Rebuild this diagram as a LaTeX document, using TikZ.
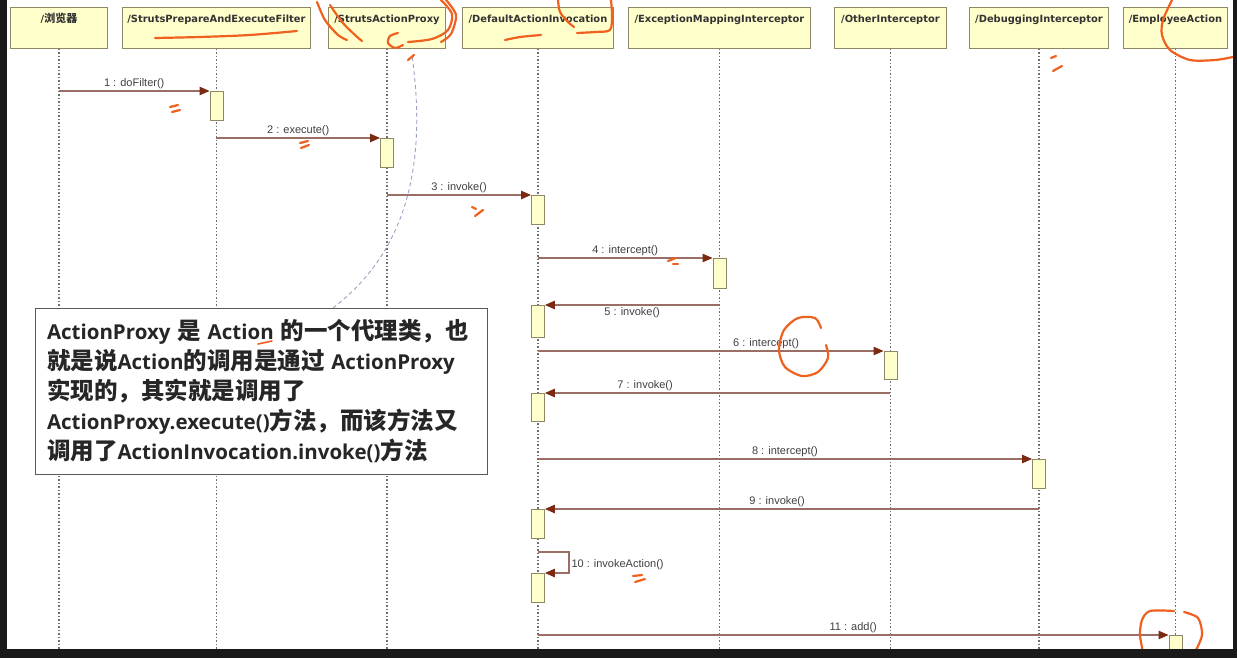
\documentclass[tikz,border=0pt]{standalone}
\usepackage{fontspec}
\usetikzlibrary{arrows.meta}
\setmainfont{DejaVu Sans}
\newfontfamily\hdrfont{DejaVu Sans}[BoldFont={DejaVu Sans Bold}]
\newfontfamily\cjkfont{Noto Sans CJK SC}
\newfontfamily\msgfont{Liberation Sans}
\newfontfamily\notelat{Open Sans}
\newcommand{\cj}[1]{{\cjkfont\bfseries #1}}
\newcommand{\ncj}[1]{{\cjkfont\bfseries\fontsize{23.5}{30}\selectfont #1}}
\definecolor{yel}{HTML}{FFFFCC}
\definecolor{boxc}{HTML}{8F8866}
\definecolor{lifec}{HTML}{6E6E6E}
\definecolor{msgc}{HTML}{9A6E64}
\definecolor{tipc}{HTML}{7A2A10}
\definecolor{linkc}{HTML}{9AA2C4}
\definecolor{penc}{HTML}{F0601E}
\definecolor{framec}{HTML}{1A1A1A}
\tikzset{
  hdr/.style={draw=boxc, fill=yel, line width=0.9pt, anchor=north west,
    minimum height=41pt, inner xsep=0pt, inner ysep=0pt,
    text height=15pt, text depth=26pt, font=\hdrfont\bfseries\fontsize{9.9}{11}\selectfont,
    text=black!80},
  act/.style={draw=boxc, fill=yel, line width=0.9pt, anchor=north,
    minimum width=13pt, minimum height=29pt, inner sep=0pt},
  life/.style={lifec, line width=1.1pt, dash pattern=on 1.2pt off 2.3pt},
  msg/.style={msgc, line width=1.1pt, -{Triangle[length=10pt,width=8.5pt,fill=tipc,color=tipc]}},
  mlbl/.style={font=\msgfont\fontsize{11}{13}\selectfont, text=black!75, inner sep=2pt},
  pen/.style={penc, line width=2.2pt, line cap=round, line join=round},
}
\begin{document}
\begin{tikzpicture}[x=1pt, y=-1pt]
\useasboundingbox (0,0) rectangle (1237,658);
\fill[white] (0,0) rectangle (1237,658);
\coordinate (bot) at (0,649);

% lifeline heads
\node[hdr, minimum width=97pt]  (h1) at (10,7)   {/\cj{\fontsize{11}{12}\selectfont 浏览器}};
\node[hdr, minimum width=188pt] (h2) at (122,7)  {/StrutsPrepareAndExecuteFilter};
\node[hdr, minimum width=117pt] (h3) at (328,7)  {/StrutsActionProxy};
\node[hdr, minimum width=151pt] (h4) at (462,7)  {/DefaultActionInvocation};
\node[hdr, minimum width=182pt] (h5) at (628,7)  {/ExceptionMappingInterceptor};
\node[hdr, minimum width=112pt] (h6) at (834,7)  {/OtherInterceptor};
\node[hdr, minimum width=139pt] (h7) at (969,7)  {/DebuggingInterceptor};
\node[hdr, minimum width=104pt] (h8) at (1123,7) {/EmployeeAction};

% lifelines
\foreach \h in {h1,h2,h3,h4,h5,h6,h7,h8}
  \draw[life] (\h.south) -- (\h.south |- bot);

% activations
\node[act] (a1)  at (h2.south |- 0,91)  {};
\node[act] (a2)  at (h3.south |- 0,138) {};
\node[act] (a3)  at (h4.south |- 0,195) {};
\node[act, minimum height=30pt] (a4)  at (h5.south |- 0,258) {};
\node[act, minimum height=32pt] (a5)  at (h4.south |- 0,305) {};
\node[act, minimum height=28pt] (a6)  at (h6.south |- 0,351) {};
\node[act, minimum height=28pt] (a7)  at (h4.south |- 0,393) {};
\node[act] (a8)  at (h7.south |- 0,459) {};
\node[act] (a9)  at (h4.south |- 0,509) {};
\node[act] (a10) at (h4.south |- 0,573) {};
\node[act] (a11) at (h8.south |- 0,635) {};

% messages
\draw[msg] (h1.south |- a1.north) -- node[mlbl, above] {1 : doFilter()} (a1.north west);
\draw[msg] (h2.south |- a2.north) -- node[mlbl, above] {2 : execute()} (a2.north west);
\draw[msg] (h3.south |- a3.north) -- node[mlbl, above] {3 : invoke()} (a3.north west);
\draw[msg] (h4.south |- a4.north) -- node[mlbl, above] {4 : intercept()} (a4.north west);
\draw[msg] (h5.south |- a5.north) -- node[mlbl, below] {5 : invoke()} (a5.north east);
\draw[msg] (h4.south |- a6.north) -- node[mlbl, above, pos=0.66] {6 : intercept()} (a6.north west);
\draw[msg] (h6.south |- a7.north) -- node[mlbl, above, pos=0.71] {7 : invoke()} (a7.north east);
\draw[msg] (h4.south |- a8.north) -- node[mlbl, above] {8 : intercept()} (a8.north west);
\draw[msg] (h7.south |- a9.north) -- node[mlbl, above, pos=0.53] {9 : invoke()} (a9.north east);
\coordinate (s10) at (h4.south |- 0,552);
\draw[msg] (s10) -- ++(31,0) |- node[mlbl, right, pos=0.3] {10 : invokeAction()} (a10.north east);
\draw[msg] (h4.south |- a11.north) -- node[mlbl, above] {11 : add()} (a11.north west);

% note
\node[draw=black!65, fill=white, line width=1pt, minimum width=452pt, minimum height=166pt,
      text width=428pt, align=left, inner sep=0pt,
      font=\notelat\bfseries\fontsize{20.5}{30}\selectfont, text=black!85] (note) at (261,391)
  {\mbox{ActionProxy \ncj{是} Action \ncj{的一个代理类，也}}\\
   \mbox{\ncj{就是说}Action\ncj{的调用是通过} ActionProxy}\\
   \mbox{\ncj{实现的，其实就是调用了}}\\
   \mbox{ActionProxy.execute()\ncj{方法，而该方法又}}\\
   \mbox{\ncj{调用了}ActionInvocation.invoke()\ncj{方法}}};
\coordinate (nl) at (333,308);
\coordinate (pa) at (412,55);
\draw[linkc, line width=0.9pt, dash pattern=on 4pt off 3pt]
  (nl) .. controls (415,245) and (425,150) .. (pa);

% pen marks
\draw[pen] plot[smooth] coordinates {(155,38) (200,37) (250,35) (297,31)};
\draw[pen] plot[smooth] coordinates {(317,2) (325,20) (338,35) (347,40)};
\draw[pen] plot[smooth] coordinates {(330,5) (342,22) (355,35) (362,41)};
\draw[pen] plot[smooth] coordinates {(441,0) (452,14) (448,30) (432,39) (408,42)};
\draw[pen] plot[smooth] coordinates {(446,0) (456,15) (451,34) (441,42)};
\draw[pen] plot[smooth] coordinates {(398,33) (390,36) (388,43) (395,48) (403,45)};
\draw[pen] (408,60) -- (414,55);
\draw[pen] plot[smooth] coordinates {(505,40) (520,37) (541,35)};
\draw[pen] plot[smooth] coordinates {(558,0) (560,12) (568,22) (574,27)};
\draw[pen] plot[smooth] coordinates {(577,33) (595,32) (610,30) (612,15) (611,0)};
\draw[pen] plot[smooth] coordinates {(1172,0) (1163,20) (1162,35) (1170,50) (1190,60) (1215,60) (1233,57)};
\draw[pen] (1051,58) -- (1056,56);
\draw[pen] (1053,71) -- (1062,66);
\draw[pen] (170,107) -- (178,105);
\draw[pen] (172,112) -- (180,110);
\draw[pen] (300,143) -- (308,141);
\draw[pen] (301,148) -- (309,145);
\draw[pen] (472,207) -- (476,209);
\draw[pen] (475,216) -- (483,210);
\draw[pen] (668,261) -- (676,258);
\draw[pen] (673,264) -- (678,264);
\draw[pen] (633,576) -- (642,575);
\draw[pen] (635,582) -- (645,579);
\draw[pen] plot[smooth] coordinates {(821,328) (815,318) (798,318) (784,330) (779,350) (785,367) (802,376) (818,372) (828,358) (826,345)};
\draw[pen] plot[smooth] coordinates {(1174,611) (1150,611) (1142,620) (1140,635) (1143,652)};
\draw[pen] plot[smooth] coordinates {(1184,612) (1198,618) (1202,635) (1195,652)};
\draw[pen, line width=1.6pt] (258,344) -- (272,341);

% screen frame
\fill[framec] (0,649) rectangle (1237,658);
\fill[framec] (0,0) rectangle (7,658);
\fill[framec] (1233,0) rectangle (1237,658);
\end{tikzpicture}
\end{document}
